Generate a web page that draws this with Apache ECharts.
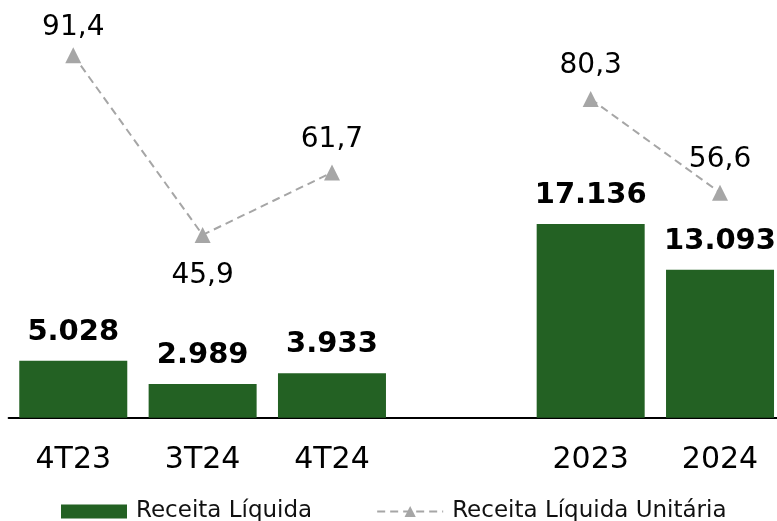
<!DOCTYPE html>
<html>
<head>
<meta charset="utf-8">
<script src="https://cdn.jsdelivr.net/npm/echarts@6/dist/echarts.min.js"></script>
<style>
html,body{margin:0;padding:0;background:#fff;}
#chart{width:777px;height:521px;}
</style>
</head>
<body>
<div id="chart"></div>
<script>
const categories = ['4T23', '3T24', '4T24', '', '2023', '2024'];
const receitaLiquida = [5028, 2989, 3933, null, 17136, 13093];
const receitaUnitaria = [91.4, 45.9, 61.7, null, 80.3, 56.6];
const unitariaLabelPos = ['top', 'bottom', 'top', 'top', 'top', 'top'];
const unitariaLabelDist = [5, 19, 11, 11, 11, 11];

const FONT = 'DejaVu Sans';

function fmtThousands(v) {
  return String(v).replace(/\B(?=(\d{3})+(?!\d))/g, '.');
}
function fmtDecimal(v) {
  return v.toFixed(1).replace('.', ',');
}

const barData = receitaLiquida.map(v => v === null ? '-' : v);
const lineData = receitaUnitaria.map((v, i) => ({
  value: v === null ? '-' : v,
  label: { position: unitariaLabelPos[i], distance: unitariaLabelDist[i] }
}));

const chart = echarts.init(document.getElementById('chart'), null, { renderer: 'canvas' });
chart.setOption({
  animation: false,
  backgroundColor: '#ffffff',
  textStyle: { fontFamily: FONT },
  grid: { left: 8.6, width: 776.1, top: 0, bottom: 103.3, containLabel: false, outerBoundsMode: 'none' },
  legend: {
    top: 495,
    left: 56,
    itemWidth: 66,
    itemHeight: 14,
    itemGap: 64,
    textStyle: { fontFamily: FONT, fontSize: 23, color: '#111', padding: [0, 0, 0, 4] },
    data: [
      { name: 'Receita Líquida', icon: 'rect' },
      { name: 'Receita Líquida Unitária' }
    ]
  },
  xAxis: {
    type: 'category',
    data: categories,
    axisTick: { show: false },
    axisLine: { lineStyle: { color: '#000', width: 2 } },
    axisLabel: { fontFamily: FONT, fontSize: 30, color: '#000', margin: 28, interval: 0 },
    splitLine: { show: false }
  },
  yAxis: [
    { type: 'value', show: false, min: 0, max: 36952, splitLine: { show: false } },
    { type: 'value', show: false, min: -0.35, max: 105.35, splitLine: { show: false } }
  ],
  series: [
    {
      name: 'Receita Líquida',
      type: 'bar',
      yAxisIndex: 0,
      data: barData,
      barWidth: 108,
      itemStyle: { color: '#236123' },
      label: {
        show: true,
        position: 'top',
        distance: 14,
        fontFamily: FONT,
        fontSize: 29,
        fontWeight: 'bold',
        color: '#000',
        formatter: p => fmtThousands(p.value)
      }
    },
    {
      name: 'Receita Líquida Unitária',
      type: 'line',
      yAxisIndex: 1,
      data: lineData,
      connectNulls: false,
      symbol: 'triangle',
      symbolSize: 16,
      itemStyle: { color: '#a6a6a6' },
      lineStyle: { color: '#a6a6a6', width: 2, type: [8, 5] },
      label: {
        show: true,
        fontFamily: FONT,
        fontSize: 28,
        color: '#000',
        formatter: p => fmtDecimal(p.value)
      }
    }
  ]
});
</script>
</body>
</html>
